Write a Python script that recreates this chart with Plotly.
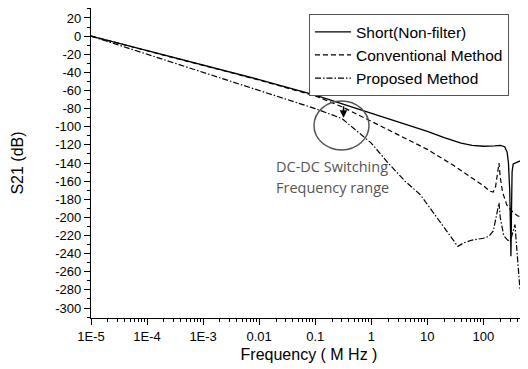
import plotly.graph_objects as go

# Frequency in MHz, S21 in dB
short_freq = [1e-5, 1e-4, 1e-3, 1e-2, 0.1, 1, 3, 10, 20, 40, 63, 100, 160, 200, 240,
              265, 280, 295, 305, 310, 318, 325, 340, 370, 450, 520]
short_db = [0, -16, -32, -48, -65, -85, -95, -105, -112, -118, -120.5, -121.5, -121,
            -120.5, -122, -128, -140, -170, -215, -243, -190, -150, -141, -140, -138, -136]

conv_freq = [1e-5, 1e-4, 1e-3, 1e-2, 0.1, 0.3, 1, 3, 10, 30, 100, 130, 150, 165, 180,
             190, 200, 220, 260, 320, 400, 480]
conv_db = [0, -16, -32, -48.5, -66, -78, -94, -109, -125, -143, -165, -171, -172, -166,
           -152, -140, -156, -172, -186, -193, -198, -200]

prop_freq = [1e-5, 1e-4, 1e-3, 1e-2, 0.1, 0.3, 0.5, 1, 2, 4, 7.5, 12.5, 20, 28, 35, 45,
             63, 100, 125, 150, 170, 190, 200, 230, 270, 300, 340, 366, 400, 450]
prop_db = [0, -20, -40, -60, -80, -91, -102, -118, -140, -160, -175, -194, -212, -225,
           -232, -228, -225, -223, -221, -215, -200, -184, -200, -220, -225, -227, -215,
           -208, -240, -280]

series_names = ["Short(Non-filter)", "Conventional Method", "Proposed Method"]

x_tickvals = [1e-5, 1e-4, 1e-3, 1e-2, 0.1, 1, 10, 100]
x_ticktext = ["1E-5", "1E-4", "1E-3", "0.01", "0.1", "1", "10", "100"]
x_minor = [m * d for d in [1e-5, 1e-4, 1e-3, 1e-2, 0.1, 1, 10, 100] for m in range(2, 10)
           if m * d <= 600]
y_tickvals = list(range(-300, 21, 20))
y_ticktext = [str(v) for v in y_tickvals]

FONT = "Liberation Sans, Arial, sans-serif"

fig = go.Figure()
fig.add_trace(go.Scatter(x=short_freq, y=short_db, mode="lines", name=series_names[0],
                         line=dict(color="black", width=1.3, dash="solid")))
fig.add_trace(go.Scatter(x=conv_freq, y=conv_db, mode="lines", name=series_names[1],
                         line=dict(color="black", width=1.2, dash="5px,3px")))
fig.add_trace(go.Scatter(x=prop_freq, y=prop_db, mode="lines", name=series_names[2],
                         line=dict(color="black", width=1.2, dash="6px,2px,1.5px,2px")))

axis_font = dict(family=FONT, size=13, color="black")
fig.update_layout(
    width=520, height=361,
    margin=dict(l=83, r=1, t=0, b=51),
    paper_bgcolor="white", plot_bgcolor="white",
    font=dict(family=FONT, color="black"),
    showlegend=True,
    legend=dict(x=0.5, y=0.98, xanchor="left", yanchor="top",
                bgcolor="white", bordercolor="#555555", borderwidth=1,
                font=dict(family=FONT, size=15.5, color="black"),
                tracegroupgap=0, itemwidth=36),
    xaxis=dict(type="log", range=[-5, 2.778], showline=True, linecolor="black",
               linewidth=1.3, mirror=True, showgrid=False, zeroline=False,
               tickmode="array", tickvals=x_tickvals, ticktext=x_ticktext,
               ticks="outside", ticklen=6, tickwidth=1, tickcolor="black",
               tickfont=axis_font,
               minor=dict(tickvals=x_minor, ticks="outside", ticklen=3, tickwidth=1,
                          tickcolor="black", showgrid=False),
               title=dict(text="Frequency ( M Hz )", font=dict(family=FONT, size=16),
                          standoff=6)),
    yaxis=dict(range=[-311, 31], showline=True, linecolor="black", linewidth=1.3,
               mirror=True, showgrid=False, zeroline=False,
               tickmode="array", tickvals=y_tickvals, ticktext=y_ticktext,
               ticks="outside", ticklen=6, tickwidth=1, tickcolor="black",
               tickfont=axis_font,
               minor=dict(dtick=10, ticks="outside", ticklen=3, tickwidth=1,
                          tickcolor="black", showgrid=False),
               title=dict(text="S21 (dB)", font=dict(family=FONT, size=16),
                          standoff=27)),
)

# Circle marking the DC-DC switching frequency range
fig.add_shape(type="circle", xref="paper", yref="paper",
              x0=0.5115, x1=0.6376, y0=0.542, y1=0.700,
              line=dict(color="#555555", width=1.5))

# Downward arrow
fig.add_annotation(x=-0.495, y=-90, xref="x", yref="y", text="", showarrow=True,
                   ax=0, ay=-13, arrowhead=2, arrowsize=1, arrowwidth=1.5,
                   arrowcolor="black", standoff=0)

note_font = dict(family="Open Sans, Noto Sans, sans-serif", size=14.5, color="#555555")
fig.add_annotation(x=0.42, y=0.49, xref="paper", yref="paper", text="DC-DC Switching",
                   showarrow=False, xanchor="left", yanchor="middle", font=note_font)
fig.add_annotation(x=0.42, y=0.42, xref="paper", yref="paper", text="Frequency range",
                   showarrow=False, xanchor="left", yanchor="middle", font=note_font)

fig.write_html("out.html")
